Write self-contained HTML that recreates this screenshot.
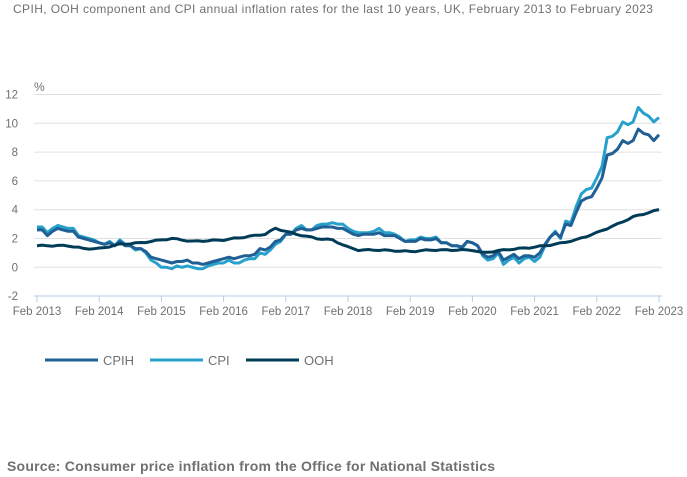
<!DOCTYPE html>
<html><head><meta charset="utf-8"><style>
body{margin:0;background:#fff;width:687px;height:477px;overflow:hidden;font-family:"Liberation Sans",sans-serif}
svg{position:absolute;left:0;top:0}
</style></head><body>
<svg width="687" height="477" viewBox="0 0 687 477" font-family="Liberation Sans, sans-serif">
<text x="13" y="13" font-size="12" fill="#707071" textLength="640">CPIH, OOH component and CPI annual inflation rates for the last 10 years, UK, February 2013 to February 2023</text>
<text x="34" y="91" font-size="12" fill="#707071">%</text>
<g id="grid" stroke="#e0e0e0" stroke-width="1"></g>
<g id="ylab" font-size="11.5" fill="#707071" text-anchor="end"></g>
<line x1="34" y1="296" x2="662" y2="296" stroke="#b8cce4" stroke-width="1"/>
<g id="xt" stroke="#b8cce4"></g>
<g id="xlab" font-size="11.5" fill="#707071" text-anchor="middle"></g>
<g id="series" fill="none" stroke-width="3" stroke-linejoin="round"></g>
<line x1="45" y1="360" x2="98" y2="360" stroke="#206095" stroke-width="3"/>
<text x="103" y="365" font-size="13" fill="#707071">CPIH</text>
<line x1="150" y1="360" x2="203" y2="360" stroke="#27a0cc" stroke-width="3"/>
<text x="208" y="365" font-size="13" fill="#707071">CPI</text>
<line x1="246" y1="360" x2="299" y2="360" stroke="#003c57" stroke-width="3"/>
<text x="304" y="365" font-size="13" fill="#707071">OOH</text>
<text x="7" y="471" font-size="14" font-weight="bold" fill="#707071" textLength="488">Source: Consumer price inflation from the Office for National Statistics</text>
</svg>
<script>
var NS="http://www.w3.org/2000/svg";
function el(p,t,a,txt){var e=document.createElementNS(NS,t);for(var k in a)e.setAttribute(k,a[k]);if(txt!=null)e.textContent=txt;document.getElementById(p).appendChild(e);}
function Y(v){return 267.3-14.4*v;}
function X(t){return 37+t*622/120;}
for(var v=12;v>=-2;v-=2){var y=Y(v);if(v>-2)el("grid","line",{x1:34,x2:662,y1:y,y2:y});el("ylab","text",{x:18,y:y+4},String(v));}
for(var i=0;i<=10;i++){var x=X(i*12);el("xt","line",{x1:x,x2:x,y1:296,y2:302});el("xlab","text",{x:x,y:315},"Feb "+(2013+i));}
var cpi=[2.8,2.8,2.4,2.7,2.9,2.8,2.7,2.7,2.2,2.1,2.0,1.9,1.7,1.6,1.8,1.5,1.9,1.6,1.5,1.2,1.3,1.0,0.5,0.3,0.0,0.0,-0.1,0.1,0.0,0.1,0.0,-0.1,-0.1,0.1,0.2,0.3,0.3,0.5,0.3,0.3,0.5,0.6,0.6,1.0,0.9,1.2,1.6,1.8,2.3,2.3,2.7,2.9,2.6,2.6,2.9,3.0,3.0,3.1,3.0,3.0,2.7,2.5,2.4,2.4,2.4,2.5,2.7,2.4,2.4,2.3,2.1,1.8,1.9,1.9,2.1,2.0,2.0,2.1,1.7,1.7,1.5,1.5,1.3,1.8,1.7,1.5,0.8,0.5,0.6,1.0,0.2,0.5,0.7,0.3,0.6,0.7,0.4,0.7,1.5,2.1,2.5,2.0,3.2,3.1,4.2,5.1,5.4,5.5,6.2,7.0,9.0,9.1,9.4,10.1,9.9,10.1,11.1,10.7,10.5,10.1,10.4];
var cpih=[2.6,2.6,2.2,2.5,2.7,2.6,2.5,2.5,2.1,2.0,1.9,1.8,1.7,1.6,1.7,1.5,1.8,1.5,1.5,1.3,1.3,1.1,0.7,0.6,0.5,0.4,0.3,0.4,0.4,0.5,0.3,0.3,0.2,0.3,0.4,0.5,0.6,0.7,0.6,0.7,0.8,0.8,0.9,1.3,1.2,1.4,1.8,1.9,2.3,2.3,2.6,2.7,2.6,2.6,2.7,2.8,2.8,2.8,2.7,2.7,2.5,2.3,2.2,2.3,2.3,2.3,2.4,2.2,2.2,2.2,2.0,1.8,1.8,1.8,2.0,1.9,1.9,2.0,1.7,1.7,1.5,1.5,1.4,1.8,1.7,1.5,0.9,0.7,0.8,1.1,0.5,0.7,0.9,0.6,0.8,0.8,0.7,1.0,1.6,2.1,2.4,2.1,3.0,2.9,3.8,4.6,4.8,4.9,5.5,6.2,7.8,7.9,8.2,8.8,8.6,8.8,9.6,9.3,9.2,8.8,9.2];
var ookey=[[0,1.5],[6,1.5],[9,1.3],[12,1.3],[16,1.6],[20,1.7],[24,1.9],[26,2.0],[30,1.8],[36,1.9],[40,2.1],[44,2.3],[46,2.7],[48,2.5],[50,2.3],[54,2.0],[57,1.9],[60,1.4],[62,1.2],[66,1.2],[72,1.1],[76,1.2],[84,1.2],[86,1.0],[90,1.2],[96,1.4],[100,1.6],[104,1.9],[108,2.4],[112,3.0],[115,3.5],[118,3.8],[120,4.0]];
var ooh=[];for(var t=0;t<=120;t++){for(var j=0;j<ookey.length-1;j++){var a=ookey[j],b=ookey[j+1];if(t>=a[0]&&t<=b[0]){var f=(t-a[0])/(b[0]-a[0]);ooh.push(a[1]+f*(b[1]-a[1])+0.04*Math.sin(t*1.7));break;}}}
function draw(d,c){var p=d.map(function(v,i){return X(i).toFixed(1)+","+Y(v).toFixed(1)}).join(" ");el("series","polyline",{points:p,stroke:c});}
draw(cpi,"#27a0cc");draw(cpih,"#206095");draw(ooh,"#003c57");
</script>
</body></html>
